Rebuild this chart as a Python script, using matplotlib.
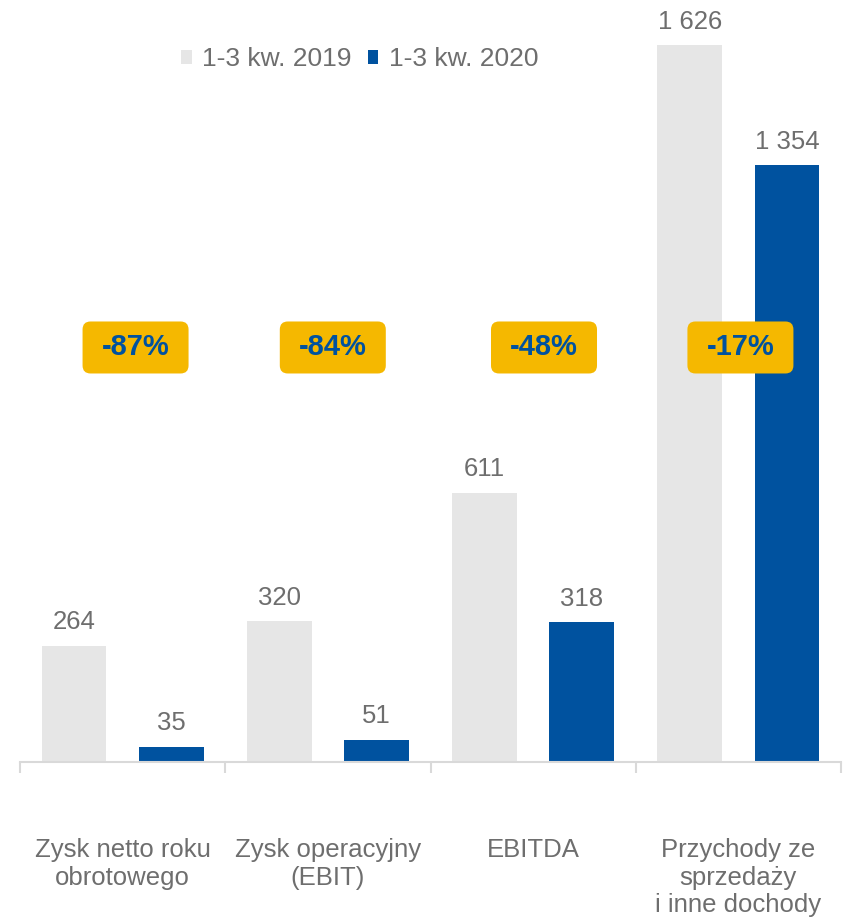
import matplotlib.pyplot as plt
from matplotlib.patches import FancyBboxPatch
from matplotlib.transforms import ScaledTranslation
import numpy as np

plt.rcParams['font.family'] = ['Liberation Sans', 'DejaVu Sans']

categories = ['Zysk netto roku\nobrotowego', 'Zysk operacyjny\n(EBIT)', 'EBITDA',
              'Przychody ze\nsprzedaży\ni inne dochody']
series_names = ['1-3 kw. 2019', '1-3 kw. 2020']
values_2019 = [264, 320, 611, 1626]
values_2020 = [35, 51, 318, 1354]
changes = ['-87%', '-84%', '-48%', '-17%']
badge_shift = [0.063, 0.024, 0.053, 0.01]  # badges are not exactly centred

gray = '#E6E6E6'
blue = '#00529F'
gold = '#F5B800'
text_col = '#6E6E6E'

fig = plt.figure(figsize=(8.44, 9.21), dpi=100)
ax = fig.add_axes([20 / 844, 159 / 921, 821 / 844, 762 / 921])

x = np.arange(len(categories))
w = 0.315
off = 0.237
b1 = ax.bar(x - off, values_2019, w, color=gray, label=series_names[0])
b2 = ax.bar(x + off, values_2020, w, color=blue, label=series_names[1])

ax.set_xlim(-0.5, len(categories) - 0.5)
ax.set_ylim(0, 1728)

def fmt(v):
    return f'{v:,}'.replace(',', ' ')

for bars, vals in ((b1, values_2019), (b2, values_2020)):
    for r, v in zip(bars, vals):
        ax.annotate(fmt(v), (r.get_x() + r.get_width() / 2, v), xytext=(0, 8),
                    textcoords='offset points', ha='center', va='bottom',
                    fontsize=18.5, color=text_col)

# change badges, sized in inches so the corners stay round
for i, c in enumerate(changes):
    xc = i + badge_shift[i]
    tr = fig.dpi_scale_trans + ScaledTranslation(xc, 940, ax.transData)
    box = FancyBboxPatch((-0.53, -0.26), 1.06, 0.52,
                         boxstyle='round,pad=0,rounding_size=0.08',
                         transform=tr, fc=gold, ec='none', zorder=3)
    ax.add_patch(box)
    ax.text(xc, 940, c, ha='center', va='center', fontsize=21, fontweight='bold',
            color=blue, zorder=4)

for s in ['top', 'right', 'left']:
    ax.spines[s].set_visible(False)
ax.spines['bottom'].set_color('#D9D9D9')
ax.spines['bottom'].set_linewidth(1.5)
ax.set_yticks([])
ax.set_xticks(np.arange(-0.5, len(categories)))
ax.set_xticklabels([])
ax.tick_params(axis='x', length=8, width=1.5, color='#D9D9D9')

for i, c in enumerate(categories):
    ax.text(i, -172, c, ha='center', va='top', fontsize=18.5, color=text_col,
            linespacing=1.2)

ax.legend(loc='center', bbox_to_anchor=(0.414, 0.922), ncol=2, frameon=False,
          fontsize=19, labelcolor=text_col, handlelength=0.4, handleheight=0.4,
          handletextpad=0.4, columnspacing=0.6, borderaxespad=0)

fig.savefig('out.png', dpi=100)
